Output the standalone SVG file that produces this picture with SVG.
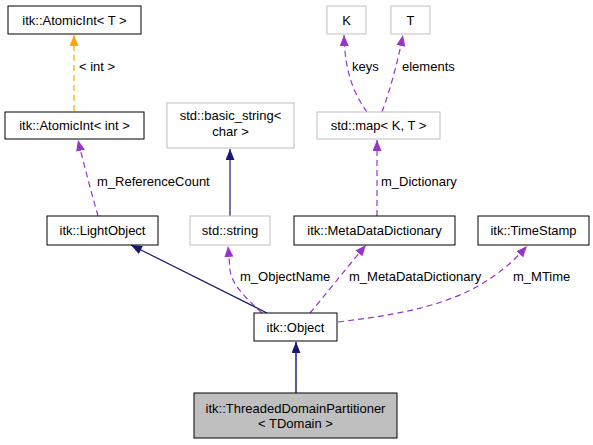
<svg xmlns="http://www.w3.org/2000/svg" width="593" height="445" viewBox="0 0 593 445">
<style>
text{font-family:"Liberation Sans",Arial,sans-serif;font-size:13px;fill:#000}
.n{fill:#fff;stroke:#000;stroke-width:1}
.g{fill:#fff;stroke:#bfbfbf;stroke-width:1}
.f{fill:#bfbfbf;stroke:#000;stroke-width:1}
.c{text-anchor:middle}
.e{fill:none;stroke-width:1.2}
.p{stroke:#9a32cd;stroke-dasharray:6,4}
.o{stroke:#ffa500;stroke-dasharray:6,4}
.b{stroke:#191970}
</style>
<defs>
<marker id="mp" markerUnits="userSpaceOnUse" markerWidth="12" markerHeight="10" refX="11" refY="4.5" orient="auto"><path d="M0,0 L11,4.5 L0,9 z" fill="#9a32cd"/></marker>
<marker id="mo" markerUnits="userSpaceOnUse" markerWidth="12" markerHeight="10" refX="11" refY="4.5" orient="auto"><path d="M0,0 L11,4.5 L0,9 z" fill="#ffa500"/></marker>
<marker id="mb" markerUnits="userSpaceOnUse" markerWidth="12" markerHeight="10" refX="11" refY="4.5" orient="auto"><path d="M0,0 L11,4.5 L0,9 z" fill="#191970"/></marker>
</defs>
<g id="edges">
<path class="e o" d="M74,111 L74,35" marker-end="url(#mo)"/>
<text x="79" y="71">&lt; int &gt;</text>
<path class="e p" d="M98,216 C92,195 84,165 78,140" marker-end="url(#mp)"/>
<text x="97" y="186">m_ReferenceCount</text>
<path class="e b" d="M230,216 L230,149" marker-end="url(#mb)"/>
<path class="e p" d="M367,112 C355,95 345,75 344,35" marker-end="url(#mp)"/>
<text x="352" y="71">keys</text>
<path class="e p" d="M382,112 C390,90 397,65 403,35" marker-end="url(#mp)"/>
<text x="402" y="71">elements</text>
<path class="e p" d="M377,216 L377,140" marker-end="url(#mp)"/>
<text x="381" y="186">m_Dictionary</text>
<path class="e b" d="M267,313 L131,245" marker-end="url(#mb)"/>
<path class="e p" d="M262,313 C245,297 232,285 230,270 L228,246" marker-end="url(#mp)"/>
<text x="240" y="281">m_ObjectName</text>
<path class="e p" d="M310,313 C325,295 345,270 366,245" marker-end="url(#mp)"/>
<text x="349" y="281">m_MetaDataDictionary</text>
<path class="e p" d="M338,322 C420,312 480,300 527,246" marker-end="url(#mp)"/>
<text x="513" y="281">m_MTime</text>
<path class="e b" d="M296,393 L296,342" marker-end="url(#mb)" style="stroke:#30307f;stroke-width:1.6"/>
</g>
<g id="atomicT"><rect class="n" x="8" y="6" width="133" height="28"/><text class="c" x="74.5" y="24.5">itk::AtomicInt&lt; T &gt;</text></g>
<g id="atomicInt"><rect class="n" x="5" y="112" width="139" height="27"/><text class="c" x="74.5" y="130">itk::AtomicInt&lt; int &gt;</text></g>
<g id="basicString"><rect class="g" x="167" y="103" width="127" height="45"/><text class="c" x="230.5" y="120">std::basic_string&lt;</text><text class="c" x="230.5" y="136">char &gt;</text></g>
<g id="K"><rect class="g" x="327" y="6" width="39" height="28"/><text class="c" x="346.5" y="24.5">K</text></g>
<g id="T"><rect class="g" x="391" y="6" width="39" height="28"/><text class="c" x="410.5" y="24.5">T</text></g>
<g id="map"><rect class="g" x="317" y="112" width="123" height="27"/><text class="c" x="378.5" y="130">std::map&lt; K, T &gt;</text></g>
<g id="lightObject"><rect class="n" x="47" y="216" width="111" height="29"/><text class="c" x="102.5" y="234.5">itk::LightObject</text></g>
<g id="stdString"><rect class="g" x="190" y="216" width="80" height="29"/><text class="c" x="230" y="234.5">std::string</text></g>
<g id="metaDataDictionary"><rect class="n" x="294" y="216" width="161" height="29"/><text class="c" x="374.5" y="234.5">itk::MetaDataDictionary</text></g>
<g id="timeStamp"><rect class="n" x="478" y="216" width="111" height="29"/><text class="c" x="533.5" y="234.5">itk::TimeStamp</text></g>
<g id="object"><rect class="n" x="254" y="313" width="83" height="28"/><text class="c" x="295.5" y="331.5">itk::Object</text></g>
<g id="threadedDomainPartitioner"><rect class="f" x="194" y="393" width="203" height="45"/><text class="c" x="295.5" y="413">itk::ThreadedDomainPartitioner</text><text class="c" x="295.5" y="428">&lt; TDomain &gt;</text></g>
</svg>
